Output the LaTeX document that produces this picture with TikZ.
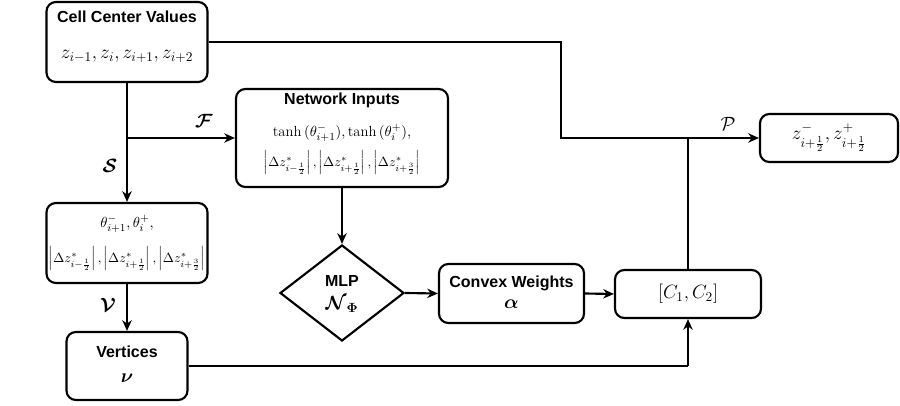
\documentclass[tikz,border=0pt]{standalone}
\usepackage{fontspec}
\newfontfamily\hv{Liberation Sans}
\usepackage{amsmath,bm}
\usetikzlibrary{arrows.meta,shapes.geometric}
\begin{document}
\begin{tikzpicture}[x=0.75pt,y=-0.75pt,
  line width=1.6pt,
  box/.style={draw,rounded corners=7pt,inner sep=0pt},
  ttl/.style={font=\hv\fontsize{12}{14}\selectfont\bfseries,inner sep=0pt},
  mth/.style={font=\fontsize{14.5}{17}\selectfont,inner sep=0pt},
  smth/.style={font=\fontsize{10.3}{12}\selectfont,inner sep=0pt},
  omth/.style={font=\fontsize{14}{16}\selectfont,inner sep=0pt},
  arr/.style={-{Stealth[length=8pt,width=7pt,inset=2.5pt]}},
  lbl/.style={font=\fontsize{14}{16}\selectfont,inner sep=0pt}]
\useasboundingbox (0,0) rectangle (900,406);
% boxes
\node[box,minimum width=161*0.75pt,minimum height=80*0.75pt] (cell) at (127,42) {};
\node[ttl] (cellt) at (127,17) {Cell Center Values};
\node[mth] (cellm) at (127,56) {$z_{i-1}, z_i, z_{i+1}, z_{i+2}$};

\node[box,minimum width=212*0.75pt,minimum height=98*0.75pt] (net) at (342,138) {};
\node[ttl] (nett) at (342,100) {Network Inputs};
\node[font=\fontsize{11}{13}\selectfont,inner sep=0pt] (netm1) at (342,133) {$\tanh{(\theta^-_{i+1})}, \tanh{(\theta^+_i)},$};
\node[smth] (netm2) at (342,163) {$\left|\Delta z^*_{i-\frac{1}{2}}\right|, \left|\Delta z^*_{i+\frac{1}{2}}\right|, \left|\Delta z^*_{i+\frac{3}{2}}\right|$};

\node[box,minimum width=161*0.75pt,minimum height=80*0.75pt] (theta) at (127,243) {};
\node[font=\fontsize{11}{13}\selectfont,inner sep=0pt] (thm1) at (127,224) {$\theta^-_{i+1}, \theta^+_i,$};
\node[smth] (thm2) at (127,259) {$\left|\Delta z^*_{i-\frac{1}{2}}\right|, \left|\Delta z^*_{i+\frac{1}{2}}\right|, \left|\Delta z^*_{i+\frac{3}{2}}\right|$};

\node[box,minimum width=121*0.75pt,minimum height=68*0.75pt] (vert) at (127,366) {};
\node[ttl] (vertt) at (127,352) {Vertices};
\node[mth] (vertm) at (127,378) {$\bm{\nu}$};

\node[draw,diamond,aspect=1.3,minimum width=124*0.75pt,minimum height=96*0.75pt,inner sep=0pt] (mlp) at (342,293) {};
\node[ttl] (mlpt) at (342,281) {MLP};
\node[mth] (mlpm) at (342,304) {$\bm{\mathcal{N}}_{\bm{\Phi}}$};

\node[box,minimum width=145*0.75pt,minimum height=59*0.75pt] (conv) at (511.5,293.5) {};
\node[ttl] (convt) at (511.5,283) {Convex Weights};
\node[mth] (convm) at (511.5,304) {$\bm{\alpha}$};

\node[box,minimum width=146*0.75pt,minimum height=48*0.75pt] (cc) at (688,294) {};
\node[mth] (ccm) at (688,294) {$[C_1, C_2]$};

\node[box,minimum width=138*0.75pt,minimum height=48*0.75pt] (out) at (829,138) {};
\node[omth] (outm) at (829,138) {$z^-_{i+\frac{1}{2}}, z^+_{i+\frac{1}{2}}$};

% connectors
\coordinate (c1) at (561,42);
\coordinate (c2) at (561,138);
\coordinate (j) at (688,138);
\coordinate (b) at (127,138);
\coordinate (vc) at (688,366);
\draw (cell.east |- cell.center) -- (c1) -- (c2) -- (j);
\draw[arr] (j) -- (out.west);
\draw (cc.north) -- (j);
\draw[arr] (cell.south) -- (theta.north);
\draw[arr] (b) -- (net.west);
\draw[arr] (theta.south) -- (vert.north);
\draw (vert.east) -- (vc);
\draw[arr] (vc) -- (cc.south);
\draw[arr] (net.south) -- (mlp.north);
\draw[arr] (mlp.east) -- (conv.west);
\draw[arr] (conv.east) -- (cc.west);

% labels
\node[lbl] (lF) at (204,121) {$\bm{\mathcal{F}}$};
\node[lbl] (lS) at (110,166) {$\bm{\mathcal{S}}$};
\node[lbl] (lV) at (108,305) {$\bm{\mathcal{V}}$};
\node[lbl] (lP) at (728,124) {$\mathcal{P}$};
\end{tikzpicture}
\end{document}
